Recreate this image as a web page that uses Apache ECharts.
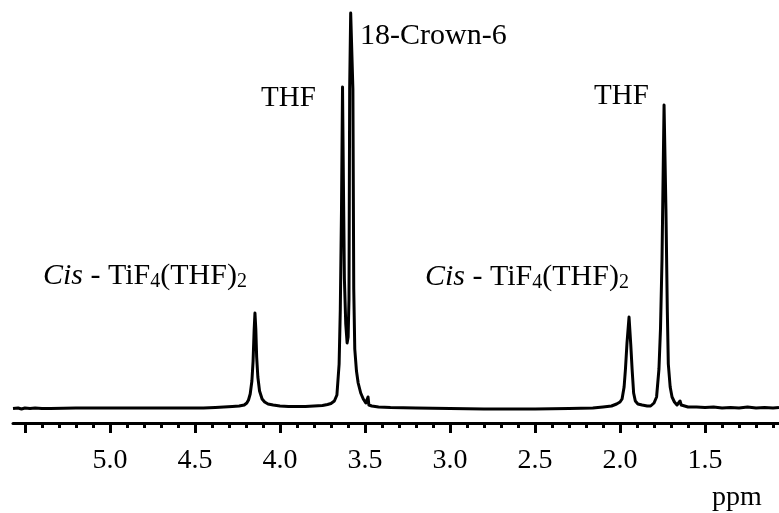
<!DOCTYPE html>
<html>
<head>
<meta charset="utf-8">
<script src="https://cdn.jsdelivr.net/npm/echarts@6/dist/echarts.min.js"></script>
<style>
  html, body { margin: 0; padding: 0; background: #fff; }
  #chart { width: 779px; height: 513px; }
</style>
</head>
<body>
<div id="chart"></div>
<script>
// 1H NMR trace: chemical shift (ppm) and signal intensity, listed from high to low field
const shifts = [
  5.57, 5.54, 5.52, 5.50, 5.47, 5.44, 5.40, 5.35, 5.20, 5.00, 4.80, 4.60, 4.45, 4.38, 4.33, 4.28, 4.24, 4.21,
  4.195, 4.185, 4.175, 4.165, 4.158, 4.152, 4.147, 4.142, 4.137, 4.130, 4.120, 4.105, 4.090, 4.070, 4.040, 4.000,
  3.950, 3.850, 3.800, 3.750, 3.720, 3.700, 3.680, 3.665, 3.652, 3.645, 3.638, 3.632, 3.627, 3.621, 3.613, 3.605,
  3.599, 3.594, 3.590, 3.584, 3.576, 3.571, 3.566, 3.560, 3.550, 3.540, 3.525, 3.510, 3.495, 3.486, 3.482, 3.477,
  3.460, 3.420, 3.350, 3.200, 3.000, 2.800, 2.500, 2.300, 2.160, 2.100, 2.050, 2.020, 2.000, 1.988, 1.976, 1.968,
  1.959, 1.947, 1.937, 1.929, 1.920, 1.910, 1.895, 1.870, 1.840, 1.820, 1.800, 1.785, 1.771, 1.762, 1.753, 1.741,
  1.730, 1.722, 1.716, 1.705, 1.694, 1.680, 1.665, 1.655, 1.647, 1.640, 1.629, 1.600, 1.550, 1.500, 1.450, 1.400,
  1.350, 1.300, 1.250, 1.200, 1.150, 1.100, 1.065
];
const intensities = [
  0.5, 1, 0, 1, 0.5, 1, 0.5, 0.5, 1, 1, 1, 1, 1, 1.5, 2, 2.5, 3, 4,
  6, 9, 15, 28, 48, 78, 96, 80, 52, 32, 18, 10, 7, 5, 4, 3,
  2.5, 2.5, 3, 3.5, 4.5, 5.5, 8, 14, 45, 100, 200, 322, 230, 130, 85, 66,
  72, 110, 320, 396, 396, 320, 120, 60, 38, 26, 16, 10, 6, 5, 12, 4,
  3, 2, 1.5, 1, 0.5, 0, 0, 0.5, 1, 2, 3, 5, 7, 10, 22, 40,
  66, 92, 65, 40, 16, 8, 5, 4, 3, 3, 6, 12, 40, 80, 150, 304,
  200, 100, 45, 22, 12, 7, 4, 5, 8, 4, 3, 2, 2, 1.5, 2, 1,
  1.5, 1, 2, 1, 1.5, 1, 1.5
];

// Shift axis: major ticks, labelled ticks and the 0.1 ppm minor ticks
const majorTicks = [5.5, 5.0, 4.5, 4.0, 3.5, 3.0, 2.5, 2.0, 1.5];
const labelledTicks = [5.0, 4.5, 4.0, 3.5, 3.0, 2.5, 2.0, 1.5];
const minorTicks = [
  5.4, 5.3, 5.2, 5.1, 4.9, 4.8, 4.7, 4.6, 4.4, 4.3, 4.2, 4.1, 3.9, 3.8, 3.7, 3.6,
  3.4, 3.3, 3.2, 3.1, 2.9, 2.8, 2.7, 2.6, 2.4, 2.3, 2.2, 2.1, 1.9, 1.8, 1.7, 1.6,
  1.4, 1.3, 1.2, 1.1
];
const shiftMin = 1.065, shiftMax = 5.57;

// Peak assignments
const peakTexts = [
  '{i|Cis} - TiF{s|4}(THF){s|2}',
  'THF',
  '18-Crown-6',
  '{i|Cis} - TiF{s|4}(THF){s|2}',
  'THF'
];
const peakFontSizes = [30, 29, 30, 30, 29];

const serif = "'Liberation Serif', 'Times New Roman', serif";
const richStyles = {
  i: { fontStyle: 'italic', fontSize: 30, fontFamily: serif, fill: '#000' },
  s: { fontSize: 20, fontFamily: serif, fill: '#000', padding: [11, 0, 0, 0], verticalAlign: 'top' }
};

const labelPlaces = [
  { left: 43, top: 261 },
  { left: 261, top: 84 },
  { left: 360, top: 21 },
  { left: 425, top: 262 },
  { left: 594, top: 82 }
];

const trace = shifts.map((s, i) => [s, intensities[i]]);

const chart = echarts.init(document.getElementById('chart'), null, { renderer: 'canvas' });

chart.setOption({
  animation: false,
  backgroundColor: '#fff',
  grid: { left: 13, right: 0, top: 12, bottom: 90 },
  xAxis: [
    {
      type: 'value', position: 'bottom', inverse: true, min: shiftMin, max: shiftMax,
      axisLine: { onZero: false, lineStyle: { color: '#000', width: 3 } },
      axisTick: { show: true, customValues: majorTicks, length: 10, lineStyle: { color: '#000', width: 3 } },
      axisLabel: {
        customValues: labelledTicks, margin: 24, fontSize: 28, fontFamily: serif, color: '#000',
        formatter: v => v.toFixed(1)
      },
      splitLine: { show: false }
    },
    {
      type: 'value', position: 'bottom', offset: 0, inverse: true, min: shiftMin, max: shiftMax,
      axisLine: { show: false, onZero: false },
      axisTick: { show: true, customValues: minorTicks, length: 5, lineStyle: { color: '#000', width: 3 } },
      axisLabel: { show: false },
      splitLine: { show: false }
    }
  ],
  yAxis: { type: 'value', min: -14, max: 397, show: false },
  series: [{
    type: 'line',
    xAxisIndex: 0,
    data: trace,
    showSymbol: false,
    clip: false,
    lineStyle: { color: '#000', width: 3, join: 'round' }
  }],
  graphic: peakTexts.map((t, i) => ({
    type: 'text',
    left: labelPlaces[i].left,
    top: labelPlaces[i].top,
    style: {
      text: t,
      fill: '#000',
      fontSize: peakFontSizes[i],
      fontFamily: serif,
      rich: richStyles
    }
  })).concat([{
    type: 'text', left: 712, top: 484,
    style: { text: 'ppm', fill: '#000', fontSize: 28, fontFamily: serif }
  }])
});
</script>
</body>
</html>
